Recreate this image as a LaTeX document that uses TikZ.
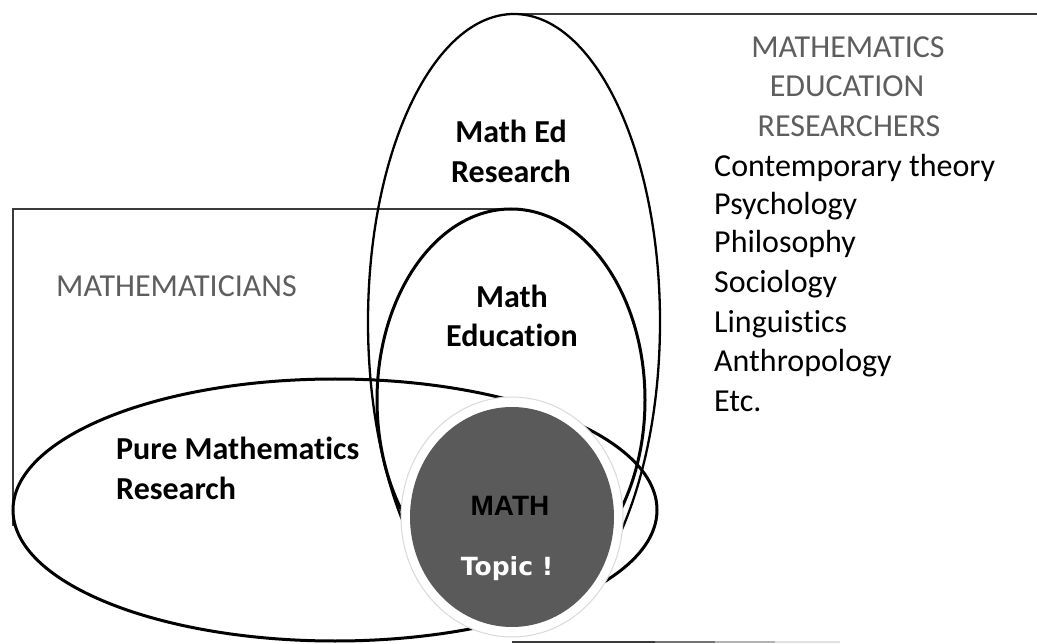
\documentclass[tikz,border=0pt]{standalone}
\usepackage{fontspec}
\setmainfont{Carlito}[RawFeature={-liga;-clig;-calt;-dlig}]
\newfontfamily\mathfontx{Liberation Sans}
\newfontfamily\topicfontx{DejaVu Sans}
\definecolor{labgray}{HTML}{5E5E5E}
\definecolor{diskgray}{HTML}{5A5A5A}
\definecolor{framegray}{HTML}{3A3A3A}
\begin{document}
\begin{tikzpicture}[x=1pt,y=-1pt,
  txt/.style={inner sep=0pt, font=\fontsize{32}{38}\selectfont},
  boldtxt/.style={txt, font=\fontsize{32}{38}\selectfont\bfseries},
  graytxt/.style={txt, text=labgray},
  frame/.style={draw=framegray, line width=2.2pt},
  ring/.style={draw=black, line width=3pt},
  thinring/.style={draw=black, line width=2.3pt}]
\useasboundingbox[fill=white] (0,0) rectangle (1037,644);

% frame lines
\coordinate (rtop) at (514,14);
\coordinate (rend) at (1037,14);
\coordinate (mtopl) at (13,209);
\coordinate (mtopr) at (511,209);
\coordinate (mbot) at (13,526);
\coordinate (b0) at (512,642);
\coordinate (b1) at (655,642);
\coordinate (b2) at (715,642);
\coordinate (b3) at (775,642);
\coordinate (b4) at (840,642);
\draw[frame] (rtop) -- (rend);
\draw[frame] (mbot) -- (mtopl) -- (mtopr);
\draw[frame] (b0) -- (b1);
\draw[draw=black!55, line width=2.2pt] (b1) -- (b2);
\draw[draw=black!30, line width=2.2pt] (b2) -- (b3);
\draw[draw=black!12, line width=2.2pt] (b3) -- (b4);

% ellipses
\draw[thinring] (514,322) ellipse [x radius=146, y radius=308];
\draw[ring] (511,400) ellipse [x radius=134, y radius=191];
\draw[ring] (335,510) ellipse [x radius=322, y radius=131];

% central disk
\draw[draw=black!15, line width=1pt, fill=white] (512,517) ellipse [x radius=111, y radius=120];
\fill[diskgray] (512,517) ellipse [x radius=102, y radius=110];

% labels
\node[graytxt, anchor=base west] (mathematicians) at (56,297) {MATHEMATICIANS};
\node[boldtxt, anchor=base west] (pure1) at (116,460) {Pure Mathematics};
\node[boldtxt, anchor=base west] (pure2) at (116,499) {Research};
\node[boldtxt, anchor=base] (med1) at (511,143) {Math Ed};
\node[boldtxt, anchor=base] (med2) at (511,183) {Research};
\node[boldtxt, anchor=base] (edu1) at (512,308) {Math};
\node[boldtxt, anchor=base] (edu2) at (512,347) {Education};
\node[inner sep=0pt, anchor=base, font=\mathfontx\bfseries\fontsize{28}{32}\selectfont] (mathlbl) at (510,515) {MATH};
\node[inner sep=0pt, anchor=base, text=white, font=\topicfontx\bfseries\fontsize{25}{30}\selectfont] (topic) at (507,575) {Topic !};

\node[graytxt, anchor=base] (mer1) at (848,58) {MATHEMATICS};
\node[graytxt, anchor=base] (mer2) at (847,97) {EDUCATION};
\node[graytxt, anchor=base] (mer3) at (849,137) {RESEARCHERS};
\node[txt, anchor=base west] (l1) at (714,177) {Contemporary theory};
\node[txt, anchor=base west] (l2) at (714,215) {Psychology};
\node[txt, anchor=base west] (l3) at (714,253) {Philosophy};
\node[txt, anchor=base west] (l4) at (714,293) {Sociology};
\node[txt, anchor=base west] (l5) at (714,333) {Linguistics};
\node[txt, anchor=base west] (l6) at (714,372) {Anthropology};
\node[txt, anchor=base west] (l7) at (714,412) {Etc.};
\end{tikzpicture}
\end{document}
